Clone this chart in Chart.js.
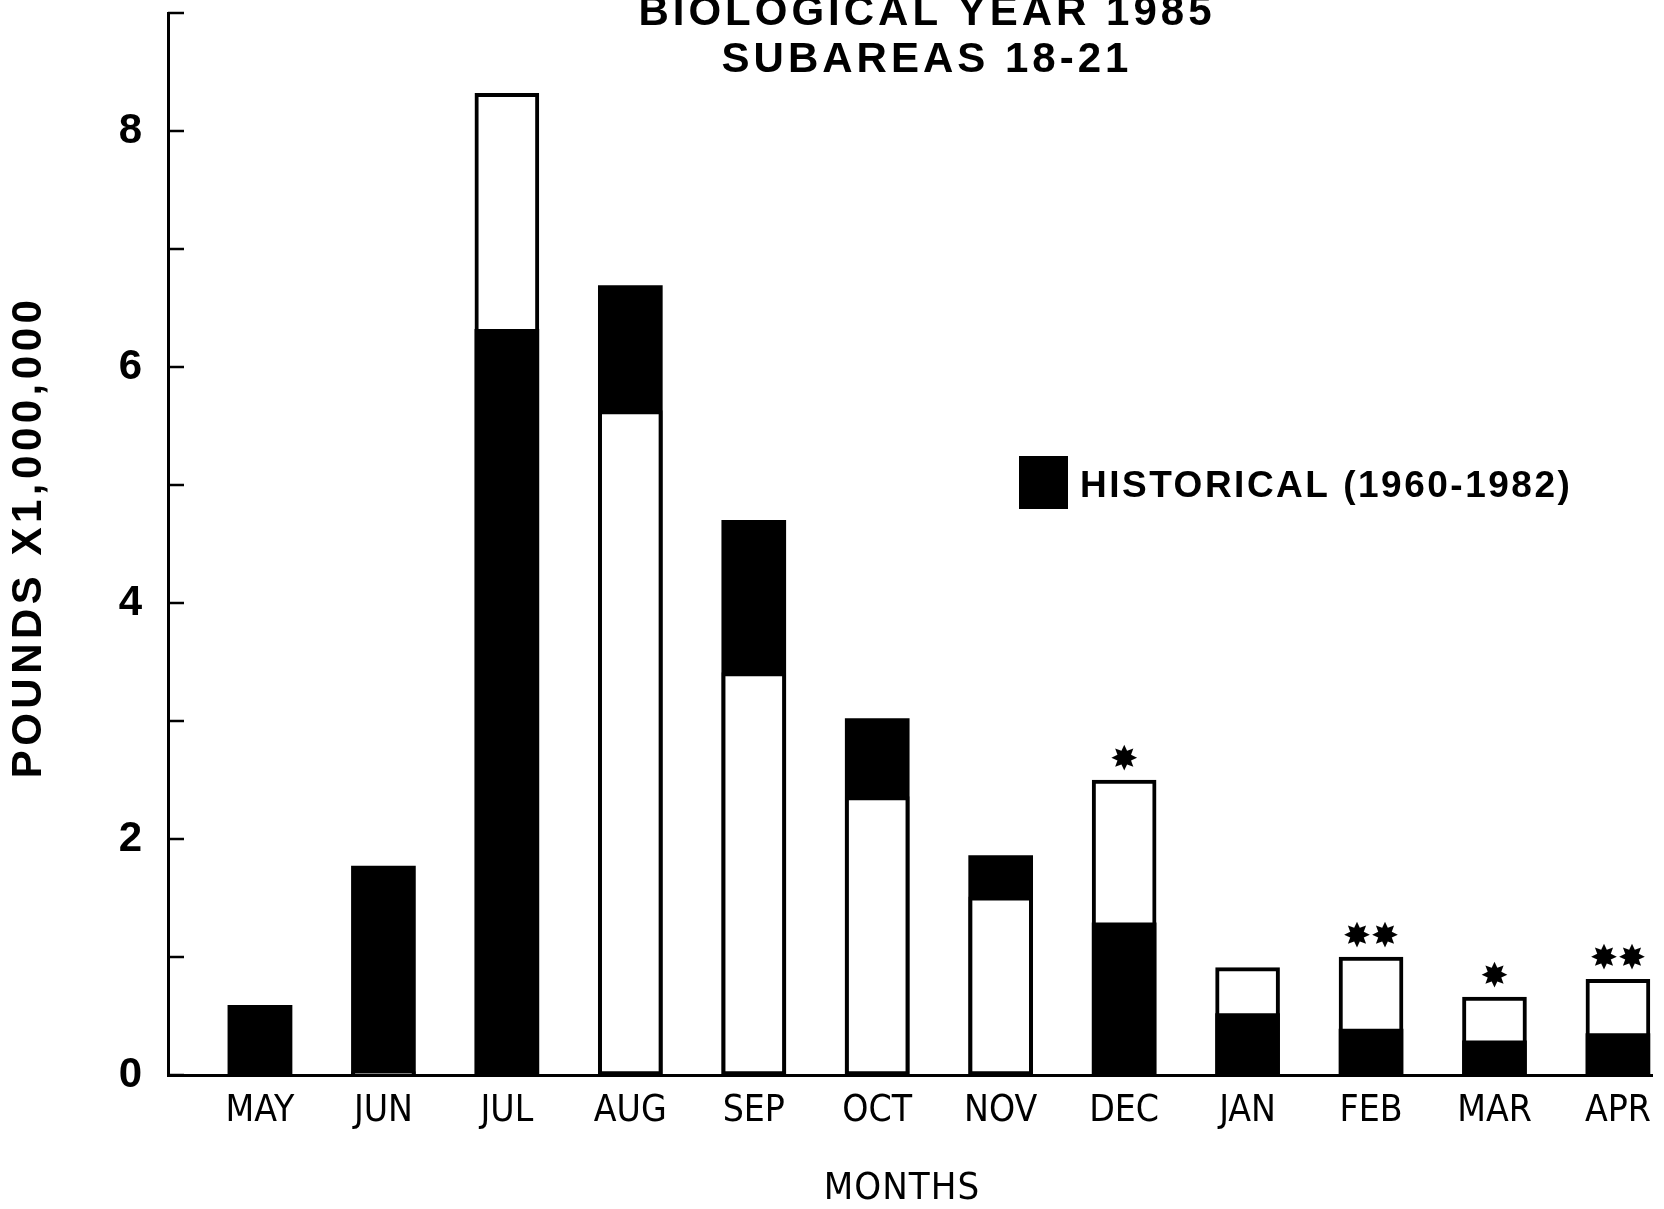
<!DOCTYPE html>
<html>
<head>
<meta charset="utf-8">
<script src="https://cdn.jsdelivr.net/npm/chart.js@4.4.0/dist/chart.umd.min.js"></script>
<style>
	html, body { margin: 0; padding: 0; background: #fff; }
	#wrap { width: 1664px; height: 1209px; }
</style>
</head>
<body>
<div id="wrap"><canvas id="js-catch-chart" width="1664" height="1209"></canvas></div>
<script>
// values, pounds x 1,000,000
const months = ['MAY', 'JUN', 'JUL', 'AUG', 'SEP', 'OCT', 'NOV', 'DEC', 'JAN', 'FEB', 'MAR', 'APR'];
const historical = [0.59, 1.77, 6.32, 6.69, 4.70, 3.02, 1.86, 1.29, 0.52, 0.39, 0.29, 0.35];
const year1985 = [0.59, 0.03, 8.32, 5.63, 3.41, 2.36, 1.51, 2.50, 0.91, 1.00, 0.66, 0.81];
const starCount = [0, 0, 0, 0, 0, 0, 0, 1, 0, 2, 1, 2];
const yLabelled = [0, 2, 4, 6, 8];

const BOLD = '"Liberation Sans", Arial, Helvetica, sans-serif';
const NARROW = '"Liberation Sans Narrow", "DejaVu Sans Condensed", "Arial Narrow", sans-serif';

// smaller bar goes in front, so split 1985 into a front and a back set
const inFront = (i) => year1985[i] < historical[i];
const points = (vals, keep) => vals.map((v, i) => ({ x: i, y: keep(i) ? v : null }));

const whiteBar = {
	backgroundColor: '#fff',
	borderColor: '#000',
	borderWidth: 4,
	borderSkipped: false,
	grouped: false,
	barThickness: 64,
};

const decorPlugin = {
	id: 'decor',
	afterDraw(chart) {
		const { ctx, chartArea } = chart;
		const x = chart.scales.x;
		const y = chart.scales.y;
		ctx.save();

		// tick marks point into the plot
		ctx.strokeStyle = '#000';
		ctx.lineWidth = 2.5;
		y.ticks.forEach((t) => {
			const py = y.getPixelForValue(t.value);
			ctx.beginPath();
			ctx.moveTo(chartArea.left, py);
			ctx.lineTo(chartArea.left + 16, py);
			ctx.stroke();
		});

		ctx.fillStyle = '#000';

		// asterisks over some 1985 bars
		ctx.font = 'bold 34px "DejaVu Sans", sans-serif';
		ctx.textAlign = 'center';
		ctx.textBaseline = 'middle';
		starCount.forEach((n, i) => {
			if (!n) return;
			const px = x.getPixelForValue(i);
			const py = y.getPixelForValue(year1985[i]) - 19;
			for (let k = 0; k < n; k++) {
				const off = n === 1 ? 0 : (k === 0 ? -14 : 14);
				ctx.fillText('\u2738', px + off, py);
			}
		});

		// titles
		ctx.textBaseline = 'alphabetic';
		ctx.font = 'bold 42px ' + BOLD;
		ctx.letterSpacing = '4px';
		ctx.fillText('BIOLOGICAL YEAR 1985', 927, 25);
		ctx.fillText('SUBAREAS 18-21', 927, 72);

		// legend
		ctx.fillRect(1019, 456, 49, 53);
		ctx.textAlign = 'left';
		ctx.font = 'bold 37px ' + BOLD;
		ctx.letterSpacing = '2.5px';
		ctx.fillText('HISTORICAL (1960-1982)', 1080, 497);

		// axis titles
		ctx.textAlign = 'center';
		ctx.textBaseline = 'middle';
		ctx.letterSpacing = '1px';
		ctx.font = '38px ' + NARROW;
		ctx.fillText('MONTHS', 902, 1189);

		ctx.translate(29, 537);
		ctx.rotate(-Math.PI / 2);
		ctx.font = 'bold 42px ' + BOLD;
		ctx.letterSpacing = '4.5px';
		ctx.fillText('POUNDS X1,000,000', 0, 0);

		ctx.restore();
	},
};

const ctx = document.getElementById('js-catch-chart');
const myChart = new Chart(ctx, {
	type: 'bar',
	data: {
		datasets: [
			{ label: '1985', data: points(year1985, inFront), ...whiteBar },
			{
				label: 'HISTORICAL (1960-1982)',
				data: points(historical, () => true),
				backgroundColor: '#000',
				borderWidth: 0,
				grouped: false,
				barThickness: 64,
			},
			{ label: '1985 ', data: points(year1985, (i) => !inFront(i)), ...whiteBar },
		],
	},
	options: {
		responsive: false,
		animation: false,
		layout: {
			padding: { top: 13, right: 12, left: 0, bottom: 0 },
		},
		plugins: {
			legend: { display: false },
			tooltip: { enabled: false },
		},
		scales: {
			x: {
				type: 'linear',
				offset: false,
				min: -0.745,
				max: 11.276,
				afterFit: (scale) => {
					scale.height = 134;
					scale.paddingLeft = 0;
					scale.paddingRight = 0;
				},
				afterBuildTicks: (scale) => {
					scale.ticks = months.map((m, i) => ({ value: i }));
				},
				grid: { display: false, drawTicks: false },
				border: { display: true, color: '#000', width: 3 },
				ticks: {
					padding: 14,
					color: '#000',
					maxRotation: 0,
					autoSkip: false,
					font: { family: NARROW, size: 37 },
					callback: (v) => months[v],
				},
			},
			y: {
				min: 0,
				max: 9,
				afterFit: (scale) => {
					scale.width = 168;
					scale.paddingTop = 0;
					scale.paddingBottom = 0;
				},
				grid: { display: false, drawTicks: false },
				border: { display: true, color: '#000', width: 3 },
				ticks: {
					stepSize: 1,
					padding: 26,
					color: '#000',
					font: { family: BOLD, size: 42, weight: 'bold' },
					callback: (v) => (yLabelled.includes(v) ? v : ''),
				},
			},
		},
	},
	plugins: [decorPlugin],
});
</script>
</body>
</html>
